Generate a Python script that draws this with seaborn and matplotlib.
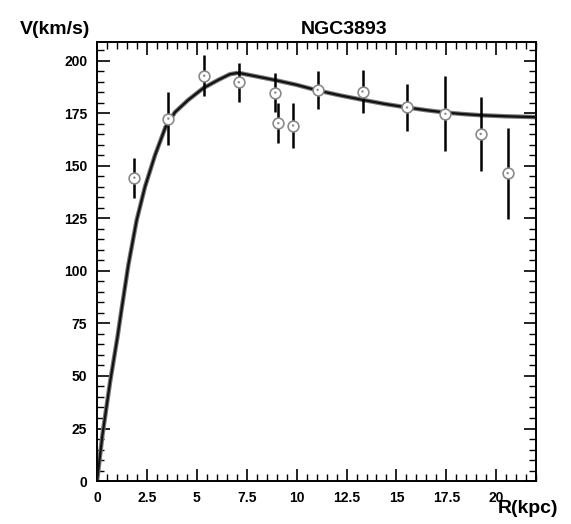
import numpy as np
import pandas as pd
import matplotlib
matplotlib.use("Agg")
import matplotlib.pyplot as plt
import seaborn as sns
from matplotlib.ticker import MultipleLocator

r_obs = [1.87, 3.57, 5.37, 7.10, 8.93, 9.08, 9.82, 11.05, 13.30, 15.53, 17.45, 19.22, 20.57]
v_obs = [144.4, 172.5, 192.9, 189.8, 184.9, 170.3, 169.2, 186.2, 185.4, 177.8, 174.8, 165.2, 146.5]
v_err = [9.5, 12.6, 9.7, 9.2, 9.4, 9.4, 10.5, 9.1, 10.2, 11.1, 17.9, 17.5, 21.6]

# Model curve
r_fit = [0, 0.27, 0.65, 1.03, 1.2, 1.57, 1.98, 2.4, 2.9, 3.43, 3.9, 4.57, 5.32,
         6.07, 6.65, 7.0, 7.23, 7.82, 8.4, 8.93, 9.98, 11.05, 12.2, 13.32, 14.4,
         15.53, 16.5, 17.45, 18.3, 19.22, 20.5, 22.0]
v_fit = [0, 22, 47, 69, 80, 103, 124, 140, 155, 168.5, 175.5, 181.4, 187,
         190.9, 193.6, 194.2, 194.0, 192.9, 191.8, 190.8, 188.6, 185.9, 183.5, 181.4, 179.5,
         177.8, 176.5, 175.4, 174.7, 174.1, 173.6, 173.2]

obs = pd.DataFrame({"R": r_obs, "V": v_obs, "err": v_err})
fit = pd.DataFrame({"R": r_fit, "V": v_fit})

sns.set_theme(style="ticks")
plt.rcParams["font.family"] = ["Liberation Sans", "DejaVu Sans"]
plt.rcParams["text.color"] = "black"
plt.rcParams["xtick.color"] = "black"
plt.rcParams["ytick.color"] = "black"
plt.rcParams["xtick.labelcolor"] = "black"
plt.rcParams["ytick.labelcolor"] = "black"

fig = plt.figure(figsize=(5.71, 5.24), dpi=100)
ax = fig.add_axes([0.170, 0.082, 0.769, 0.838])

# model curve: grey halo + dark core
sns.lineplot(data=fit, x="R", y="V", ax=ax, sort=False, color="#777777", lw=3.2, zorder=2)
sns.lineplot(data=fit, x="R", y="V", ax=ax, sort=False, color="#111111", lw=1.6, zorder=3)

# error bars
ax.vlines(obs["R"], obs["V"] - obs["err"], obs["V"] + obs["err"], color="black", lw=1.8, zorder=4)

# open circle markers with centre dot
sns.scatterplot(data=obs, x="R", y="V", ax=ax, s=60, facecolor="white",
                edgecolor="#8a8a8a", linewidth=1.2, zorder=5)
sns.scatterplot(data=obs, x="R", y="V", ax=ax, s=3, color="#8a8a8a",
                edgecolor="none", zorder=6)

ax.set_xlim(0, 22)
ax.set_ylim(0, 209)
ax.xaxis.set_minor_locator(MultipleLocator(0.5))
ax.yaxis.set_major_locator(MultipleLocator(25))
ax.yaxis.set_minor_locator(MultipleLocator(5))
ax.set_xticks([0, 2.5, 5, 7.5, 10, 12.5, 15, 17.5, 20])
ax.set_xticklabels(["0", "2.5", "5", "7.5", "10", "12.5", "15", "17.5", "20"])
ax.tick_params(which="major", direction="in", length=9, width=1.2, top=True, right=True,
               labelsize=10, pad=7, color="black", labelcolor="black")
ax.tick_params(which="minor", direction="in", length=5, width=1.0, top=True, right=True,
               color="black")
for lab in ax.get_xticklabels() + ax.get_yticklabels():
    lab.set_fontweight("bold")
for sp in ax.spines.values():
    sp.set_linewidth(1.4)
    sp.set_color("black")
ax.set_xlabel("")
ax.set_ylabel("")

fig.text(0.602, 0.943, "NGC3893", ha="center", va="center", fontsize=14, fontweight="bold")
fig.text(0.097, 0.943, "V(km/s)", ha="center", va="center", fontsize=14, fontweight="bold")
fig.text(0.925, 0.03, "R(kpc)", ha="center", va="center", fontsize=14, fontweight="bold")

fig.savefig("out.png", dpi=100)
